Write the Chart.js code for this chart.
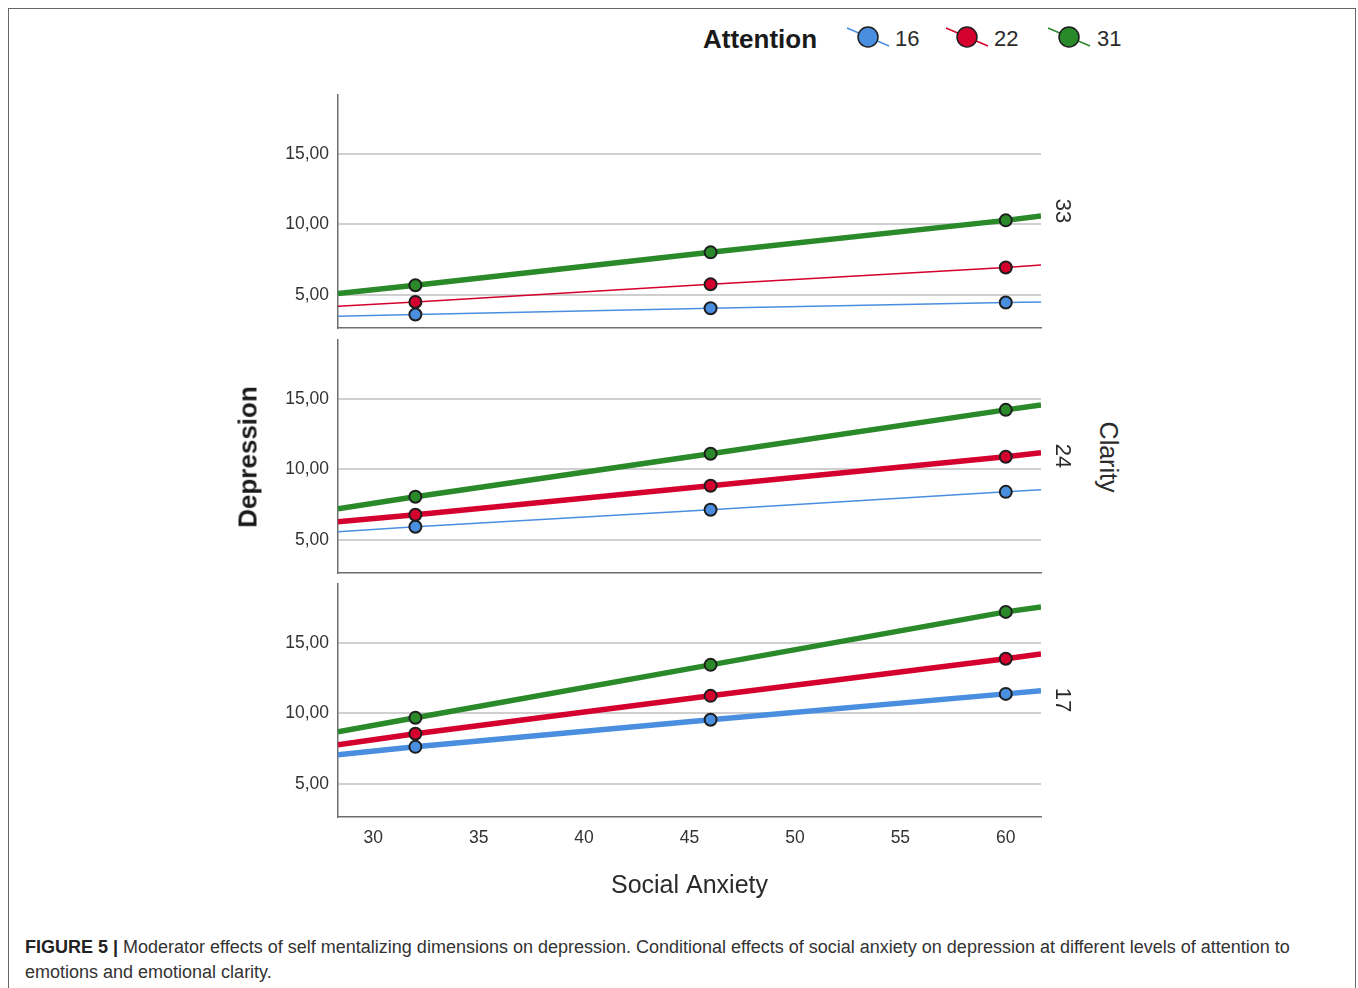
<!DOCTYPE html>
<html>
<head>
<meta charset="utf-8">
<title>Social Anxiety and Depression</title>
<script src="https://cdn.jsdelivr.net/npm/chart.js@4.4.1/dist/chart.umd.min.js"></script>
<style>
  html, body { margin: 0; padding: 0; background: #fff; }
  body { width: 1358px; height: 988px; position: relative; overflow: hidden;
         font-family: "Liberation Sans", Arial, sans-serif; color: #2b2b2b; }
  #frame { position: absolute; left: 8px; top: 8px; width: 1348px; height: 1000px;
           border: 1.5px solid #666; border-bottom: none; box-sizing: border-box; }
  canvas.panel { position: absolute; left: 250px; }
  .txt { position: absolute; white-space: nowrap; }
  .rot { transform: translate(-50%, -50%) rotate(90deg); }
  .rotl { transform: translate(-50%, -50%) rotate(-90deg); }
  #legendTitle { left: 703px; top: 23px; font-size: 26px; font-weight: bold; line-height: 32px; color: #1a1a1a; }
  .legNum { font-size: 22px; line-height: 28px; top: 25px; color: #2b2b2b; }
  .legSym { position: absolute; top: 24px; }
  .modLabel { font-size: 22px; color: #2b2b2b; }
  #clarity { left: 1108px; top: 457px; font-size: 25px; color: #2b2b2b; }
  #depression { left: 248px; top: 457px; font-size: 26px; font-weight: bold; color: #1a1a1a; }
  #caption { left: 25px; top: 935px; font-size: 18px; line-height: 25px; color: #333; }
  #caption b { color: #222; }
</style>
</head>
<body>
<div id="frame"></div>

<div id="legendTitle" class="txt">Attention</div>
<div id="legend"></div>

<canvas id="panel33" class="panel" width="811" height="273" style="top:75px"></canvas>
<canvas id="panel24" class="panel" width="811" height="273" style="top:320px"></canvas>
<canvas id="panel17" class="panel" width="811" height="337" style="top:564px"></canvas>

<div id="depression" class="txt rotl">Depression</div>
<div id="clarity" class="txt rot">Clarity</div>
<div id="modLabels"></div>

<div id="caption" class="txt"><b>FIGURE 5 |</b> Moderator effects of self mentalizing dimensions on depression. Conditional effects of social anxiety on depression at different levels of attention to<br>emotions and emotional clarity.</div>

<script>
// Social anxiety positions: left edge of the axis, the three probed values, right edge
const socialAnxiety = [28.33, 32, 46, 60, 61.67];
const socialAnxietyTicks = [30, 35, 40, 45, 50, 55, 60];
const depressionTicks = [5, 10, 15];
const depressionTickLabels = ['5,00', '10,00', '15,00'];

// Attention levels (legend) and clarity levels (panels)
const attentionLevels = ['16', '22', '31'];
const clarityLevels = ['33', '24', '17'];

// Predicted depression, clarity = 33
const clarity33Attention16 = [3.48, 3.60, 4.04, 4.45, 4.49];
const clarity33Attention22 = [4.18, 4.49, 5.74, 6.93, 7.11];
const clarity33Attention31 = [5.09, 5.67, 8.01, 10.28, 10.59];

// Predicted depression, clarity = 24
const clarity24Attention16 = [5.57, 5.92, 7.13, 8.40, 8.55];
const clarity24Attention22 = [6.28, 6.77, 8.83, 10.89, 11.17];
const clarity24Attention31 = [7.20, 8.05, 11.10, 14.22, 14.57];

// Predicted depression, clarity = 17
const clarity17Attention16 = [7.06, 7.62, 9.54, 11.38, 11.60];
const clarity17Attention22 = [7.77, 8.55, 11.24, 13.87, 14.22];
const clarity17Attention31 = [8.69, 9.68, 13.44, 17.20, 17.55];

// Styling
const attentionColors = ['#4a8ee0', '#d4002d', '#2a8a2a'];
const THICK = 5.5, THIN = 1.5;
const axisColor = '#6e6e6e';
const gridColor = '#cfcfcf';
const tickFont = { family: 'Liberation Sans', size: 17.5 };

function buildPanel(canvasId, series, widths, showX) {
  return new Chart(document.getElementById(canvasId), {
    type: 'line',
    data: {
      datasets: series.map((vals, i) => ({
        label: attentionLevels[i],
        data: vals.map((v, k) => ({ x: socialAnxiety[k], y: v })),
        borderColor: attentionColors[i],
        backgroundColor: attentionColors[i],
        borderWidth: widths[i],
        tension: 0,
        pointRadius: vals.map((v, k) => (k === 0 || k === vals.length - 1) ? 0 : 6),
        pointHoverRadius: 0,
        pointBackgroundColor: attentionColors[i],
        pointBorderColor: '#1e1e1e',
        pointBorderWidth: 2,
        order: series.length - i
      }))
    },
    options: {
      responsive: false,
      animation: false,
      events: [],
      layout: { padding: { top: 20, right: 20, bottom: showX ? 0 : 20, left: 0 } },
      plugins: { legend: { display: false }, tooltip: { enabled: false } },
      scales: {
        x: {
          type: 'linear',
          min: socialAnxiety[0],
          max: socialAnxiety[socialAnxiety.length - 1],
          afterBuildTicks: s => { s.ticks = socialAnxietyTicks.map(v => ({ value: v })); },
          grid: { display: false },
          border: { display: true, color: axisColor, width: 1.5 },
          ticks: { display: showX, padding: 3, color: '#333', font: tickFont, autoSkip: false, maxRotation: 0 },
          title: {
            display: showX, text: 'Social Anxiety', color: '#2b2b2b',
            font: { family: 'Liberation Sans', size: 25 }, padding: { top: 0, bottom: 0 }
          },
          afterFit: s => { s.height = showX ? 84 : 0; }
        },
        y: {
          type: 'linear',
          min: 2.64,
          max: 19.18,
          afterBuildTicks: s => { s.ticks = depressionTicks.map(v => ({ value: v })); },
          grid: { display: true, color: gridColor, lineWidth: 2, drawTicks: false },
          border: { display: true, color: axisColor, width: 1.5 },
          ticks: {
            padding: 9, color: '#333', font: tickFont,
            callback: v => depressionTickLabels[depressionTicks.indexOf(v)]
          },
          afterFit: s => { s.width = 88; }
        }
      }
    }
  });
}

buildPanel('panel33', [clarity33Attention16, clarity33Attention22, clarity33Attention31], [THIN, THIN, THICK], false);
buildPanel('panel24', [clarity24Attention16, clarity24Attention22, clarity24Attention31], [THIN, THICK, THICK], false);
buildPanel('panel17', [clarity17Attention16, clarity17Attention22, clarity17Attention31], [THICK, THICK, THICK], true);

// Legend: a short line through a circle marker, followed by the attention level
const legend = document.getElementById('legend');
const legendSymbolLeft = [846, 945, 1047];
const legendNumLeft = [895, 994, 1097];
attentionLevels.forEach((lvl, i) => {
  const svgNS = 'http://www.w3.org/2000/svg';
  const svg = document.createElementNS(svgNS, 'svg');
  svg.setAttribute('width', '46');
  svg.setAttribute('height', '26');
  svg.setAttribute('class', 'legSym');
  svg.style.left = legendSymbolLeft[i] + 'px';
  const line = document.createElementNS(svgNS, 'line');
  line.setAttribute('x1', '1'); line.setAttribute('y1', '4');
  line.setAttribute('x2', '43'); line.setAttribute('y2', '22');
  line.setAttribute('stroke', attentionColors[i]); line.setAttribute('stroke-width', '1.5');
  const circ = document.createElementNS(svgNS, 'circle');
  circ.setAttribute('cx', '22'); circ.setAttribute('cy', '13'); circ.setAttribute('r', '10');
  circ.setAttribute('fill', attentionColors[i]);
  circ.setAttribute('stroke', '#1e1e1e'); circ.setAttribute('stroke-width', '1.5');
  svg.appendChild(line); svg.appendChild(circ);
  legend.appendChild(svg);
  const num = document.createElement('div');
  num.className = 'txt legNum';
  num.style.left = legendNumLeft[i] + 'px';
  num.textContent = lvl;
  legend.appendChild(num);
});

// Clarity level labels on the right of each panel
const modLabels = document.getElementById('modLabels');
const modLabelTop = [211, 456, 700];
clarityLevels.forEach((lvl, i) => {
  const d = document.createElement('div');
  d.className = 'txt rot modLabel';
  d.style.left = '1063px';
  d.style.top = modLabelTop[i] + 'px';
  d.textContent = lvl;
  modLabels.appendChild(d);
});
</script>
</body>
</html>
